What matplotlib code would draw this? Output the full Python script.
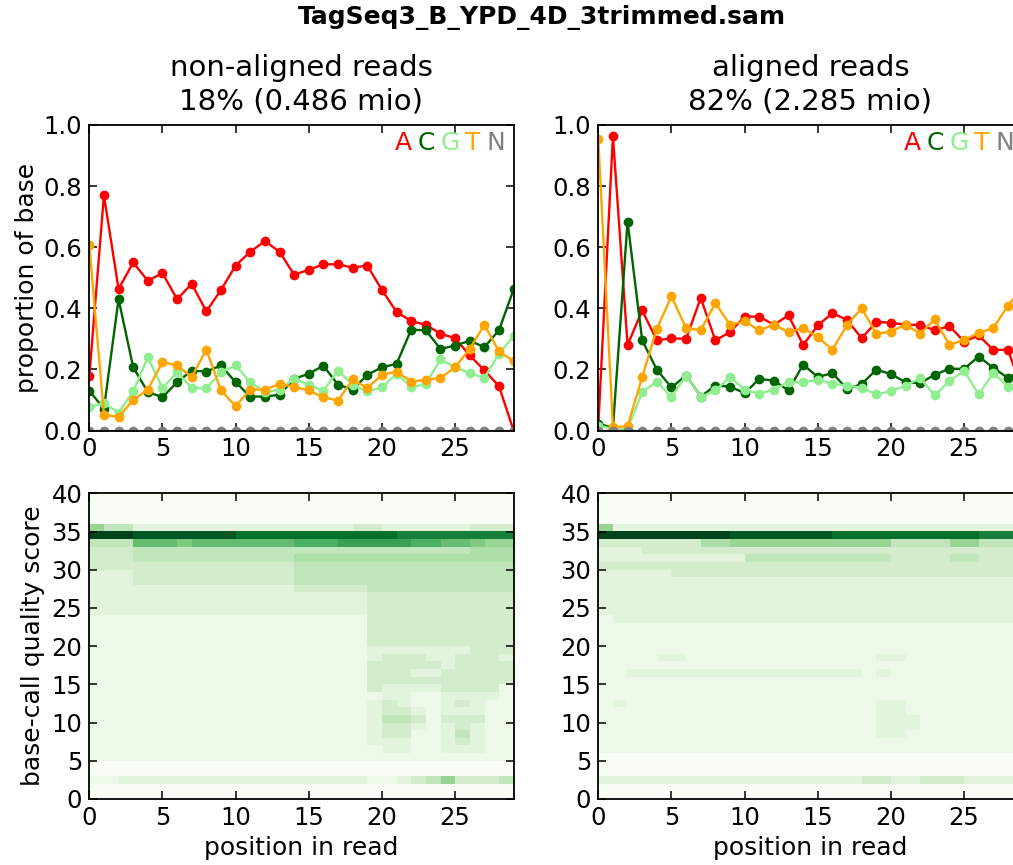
import numpy as np
import matplotlib
matplotlib.use("Agg")
import matplotlib.pyplot as plt
from matplotlib.offsetbox import TextArea, HPacker, AnchoredOffsetbox

plt.rcParams['font.family'] = ['DejaVu Sans']

fig_title = "TagSeq3_B_YPD_4D_3trimmed.sam"
panel_titles = ["non-aligned reads\n18% (0.486 mio)", "aligned reads\n82% (2.285 mio)"]
positions = list(range(30))
bases = ['A', 'C', 'G', 'T', 'N']
base_colors = ['red', 'darkgreen', 'lightgreen', 'orange', 'grey']

# ---- base composition, non-aligned reads ----
nonaligned_A = [0.177, 0.77, 0.463, 0.55, 0.49, 0.515, 0.43, 0.48, 0.39, 0.46,
                0.54, 0.585, 0.62, 0.585, 0.51, 0.526, 0.544, 0.544, 0.533, 0.54,
                0.46, 0.388, 0.358, 0.346, 0.317, 0.302, 0.246, 0.197, 0.145, 0.0]
nonaligned_C = [0.13, 0.071, 0.43, 0.207, 0.126, 0.109, 0.158, 0.196, 0.193, 0.213,
                0.158, 0.111, 0.111, 0.117, 0.169, 0.186, 0.212, 0.15, 0.134, 0.182,
                0.207, 0.218, 0.33, 0.328, 0.267, 0.278, 0.294, 0.273, 0.328, 0.462]
nonaligned_G = [0.076, 0.09, 0.058, 0.128, 0.239, 0.139, 0.191, 0.139, 0.139, 0.191,
                0.213, 0.158, 0.126, 0.134, 0.169, 0.15, 0.13, 0.196, 0.15, 0.128,
                0.141, 0.186, 0.142, 0.152, 0.233, 0.207, 0.188, 0.172, 0.251, 0.309]
nonaligned_T = [0.606, 0.052, 0.044, 0.10, 0.134, 0.224, 0.213, 0.175, 0.265, 0.131,
                0.08, 0.134, 0.134, 0.152, 0.143, 0.131, 0.109, 0.098, 0.167, 0.139,
                0.182, 0.193, 0.16, 0.166, 0.172, 0.207, 0.267, 0.346, 0.259, 0.227]
nonaligned_N = [0.0] * 30

# ---- base composition, aligned reads ----
aligned_A = [0.016, 0.963, 0.28, 0.393, 0.295, 0.302, 0.30, 0.434, 0.295, 0.322,
             0.373, 0.373, 0.346, 0.377, 0.28, 0.344, 0.384, 0.362, 0.302, 0.355,
             0.353, 0.346, 0.346, 0.328, 0.342, 0.291, 0.311, 0.264, 0.264, 0.13]
aligned_C = [0.022, 0.009, 0.684, 0.295, 0.199, 0.141, 0.18, 0.111, 0.147, 0.144,
             0.122, 0.169, 0.163, 0.131, 0.216, 0.175, 0.188, 0.136, 0.152, 0.199,
             0.185, 0.158, 0.155, 0.183, 0.202, 0.202, 0.242, 0.205, 0.172, 0.20]
aligned_G = [0.016, 0.005, 0.005, 0.126, 0.16, 0.109, 0.18, 0.109, 0.131, 0.175,
             0.134, 0.12, 0.134, 0.158, 0.158, 0.166, 0.153, 0.147, 0.14, 0.118,
             0.129, 0.147, 0.171, 0.115, 0.162, 0.196, 0.118, 0.188, 0.144, 0.16]
aligned_T = [0.953, 0.011, 0.014, 0.175, 0.333, 0.439, 0.335, 0.328, 0.417, 0.346,
             0.357, 0.328, 0.346, 0.322, 0.335, 0.306, 0.264, 0.346, 0.40, 0.317,
             0.324, 0.346, 0.317, 0.364, 0.28, 0.297, 0.319, 0.336, 0.409, 0.47]
aligned_N = [0.0] * 30

# ---- quality heatmaps: one string per quality score (39 at top .. 0 at bottom),
#      one hex digit per read position (0..28), digit/15 = colour level ----
nonaligned_quality = [
    "00000000000000000000000000000",  # 39
    "00000000000000000000000000000",  # 38
    "00000000000000000000000000000",  # 37
    "00000000000000000000000000000",  # 36
    "64422222222222222233222222333",  # 35
    "fffeeeeeeedddddddddddcccccccc",  # 34
    "44488878888888999aaaaa9988766",  # 33
    "33344444444444444444444444555",  # 32
    "33344444444444555555555555555",  # 31
    "33333333333333444444444444444",  # 30
    "22233333333333444444444444444",  # 29
    "22233333333333444444444444444",  # 28
    "22222222222222333334444444444",  # 27
    "22222222222222222223333333333",  # 26
    "22222222222222222223333333333",  # 25
    "22222222222222222223333333333",  # 24
    "11111111111111111113333333333",  # 23
    "11111111111111111113333333333",  # 22
    "11111111111111111113333333333",  # 21
    "11111111111111111113333333333",  # 20
    "11111111111111111112222222333",  # 19
    "11111111111111111112333223332",  # 18
    "11111111111111111113333323333",  # 17
    "11111111111111111113332233333",  # 16
    "11111111111111111113333333333",  # 15
    "11111111111111111113222233331",  # 14
    "11111111111111111111221122221",  # 13
    "11111111111111111112321123211",  # 12
    "11111111111111111112332122211",  # 11
    "11111111111111111112443133311",  # 10
    "11111111111111111112332123211",  # 9
    "11111111111111111112331124211",  # 8
    "11111111111111111112221123211",  # 7
    "11111111111111111111221122211",  # 6
    "11111111111111111111111111111",  # 5
    "00000000000000000000000000000",  # 4
    "00000000000000000000000000000",  # 3
    "11222222222222222221123463334",  # 2
    "00000000000000000000000000000",  # 1
    "00000000000000000000000000000",  # 0
]
aligned_quality = [
    "00000000000000000000000000000",  # 39
    "00000000000000000000000000000",  # 38
    "00000000000000000000000000000",  # 37
    "00000000000000000000000000000",  # 36
    "62222222222222222222222222222",  # 35
    "fffffffffeeeeeeeddddddddddccc",  # 34
    "33333335566666666666444466444",  # 33
    "22233333333333333333333333333",  # 32
    "22222222224444444444333344333",  # 31
    "33333333333333333333333333333",  # 30
    "22222333333333333333333333333",  # 29
    "22222222222222222222222222222",  # 28
    "22222222222222222222222222222",  # 27
    "22222222222222222222222222222",  # 26
    "22222222222222222222222222222",  # 25
    "22222222222222222222222222222",  # 24
    "12222222222222222222222222222",  # 23
    "11111111111111111111111111111",  # 22
    "11111111111111111111111111111",  # 21
    "11111111111111111111111111111",  # 20
    "11111111111111111111111111111",  # 19
    "11112211111111111112211111111",  # 18
    "11111111111111111111111111111",  # 17
    "11222222222222222212111111111",  # 16
    "11111111111111111111111111111",  # 15
    "11111111111111111111111111111",  # 14
    "11111111111111111111111111111",  # 13
    "12111111111111111112211111111",  # 12
    "11111111111111111112211111111",  # 11
    "11111111111111111112221111111",  # 10
    "11111111111111111112221111111",  # 9
    "11111111111111111112211111111",  # 8
    "11111111111111111111111111111",  # 7
    "11111111111111111111111111111",  # 6
    "00000000000000000000000000000",  # 5
    "00000000000000000000000000000",  # 4
    "00000000000000000000000000000",  # 3
    "22222222222222222233223332222",  # 2
    "00000000000000000000000000000",  # 1
    "00000000000000000000000000000",  # 0
]

composition = [
    [nonaligned_A, nonaligned_C, nonaligned_G, nonaligned_T, nonaligned_N],
    [aligned_A, aligned_C, aligned_G, aligned_T, aligned_N],
]
quality = [nonaligned_quality, aligned_quality]


def decode(rows):
    arr = np.array([[int(c, 16) / 15.0 for c in r] for r in rows])
    return arr[::-1]  # quality 0 first


W, H = 1013, 865
fig = plt.figure(figsize=(W / 100, H / 100), dpi=100)
fig.patch.set_facecolor('white')

lefts = [89.3, 598.3]
ax_w = 424.3
top_top, top_bot = 125.0, 430.5
bot_top, bot_bot = 493.3, 799.0

fig.suptitle(fig_title, x=0.535, y=1 - 18.0 / H, va='center',
             fontsize=18, fontweight='bold')


def style_axes(ax):
    for s in ax.spines.values():
        s.set_linewidth(1.3)
    ax.tick_params(direction='in', length=6, width=1.1, top=True, right=True,
                   labelsize=17.5, pad=5)


for k in range(2):
    l = lefts[k] / W
    # composition
    ax = fig.add_axes([l, 1 - top_bot / H, ax_w / W, (top_bot - top_top) / H])
    for vals, col in zip(composition[k], base_colors):
        ax.plot(positions, vals, '-o', color=col, lw=1.7, ms=6, mec=col)
    ax.set_xlim(0, 29)
    ax.set_ylim(0, 1)
    ax.set_xticks([0, 5, 10, 15, 20, 25])
    ax.set_yticks([0.0, 0.2, 0.4, 0.6, 0.8, 1.0])
    ax.set_yticklabels(['0.0', '0.2', '0.4', '0.6', '0.8', '1.0'])
    style_axes(ax)
    ax.set_title(panel_titles[k], fontsize=21, pad=11, linespacing=1.28)
    if k == 0:
        ax.set_ylabel('proportion of base', fontsize=18, labelpad=3)
    boxes = [TextArea(b, textprops=dict(color=c, fontsize=18)) for b, c in zip(bases, base_colors)]
    pack = HPacker(children=boxes, align='baseline', pad=0, sep=4)
    ax_h_px = top_bot - top_top
    anch = AnchoredOffsetbox(loc='upper right', child=pack, pad=0, borderpad=0,
                             frameon=False,
                             bbox_to_anchor=(1 - 8.5 / ax_w, 1 - 5.5 / ax_h_px),
                             bbox_transform=ax.transAxes)
    ax.add_artist(anch)

    # quality heatmap
    axh = fig.add_axes([l, 1 - bot_bot / H, ax_w / W, (bot_bot - bot_top) / H])
    data = decode(quality[k])
    ncol = data.shape[1]
    axh.imshow(data, cmap='Greens', vmin=0, vmax=1, aspect='auto', origin='lower',
               extent=(0, ncol, 0, 40), interpolation='nearest')
    axh.set_xlim(0, 29)
    axh.set_ylim(0, 40)
    axh.set_xticks([0, 5, 10, 15, 20, 25])
    axh.set_yticks(range(0, 41, 5))
    style_axes(axh)
    axh.set_xlabel('position in read', fontsize=18, labelpad=4)
    if k == 0:
        axh.set_ylabel('base-call quality score', fontsize=18, labelpad=5)

fig.savefig('out.png', dpi=100)
